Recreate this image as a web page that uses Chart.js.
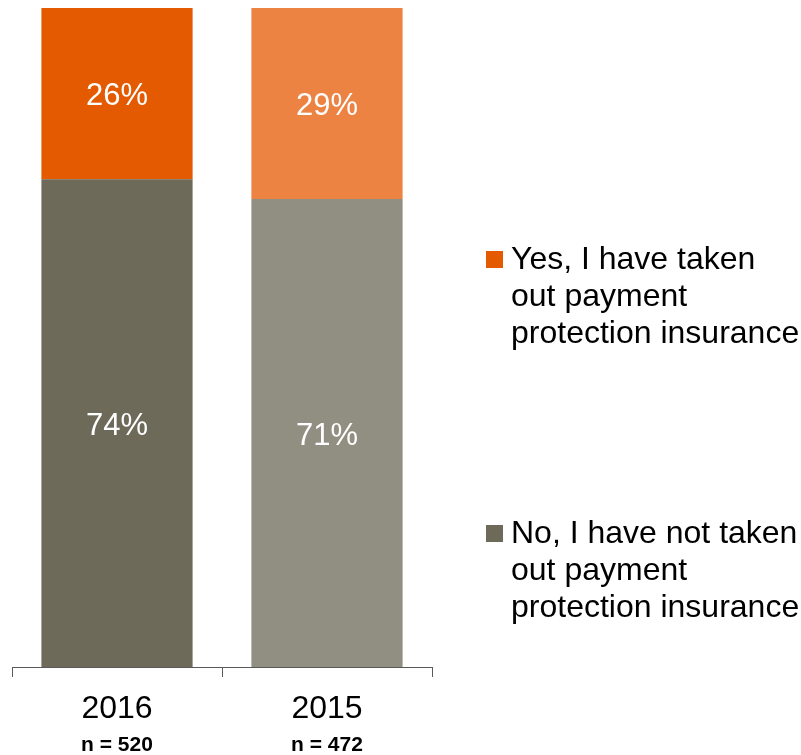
<!DOCTYPE html>
<html>
<head>
<meta charset="utf-8">
<title>Payment protection insurance</title>
<script src="https://cdn.jsdelivr.net/npm/chart.js@4.4.1/dist/chart.umd.min.js"></script>
<style>
	html, body { margin: 0; padding: 0; background: #fff; }
	#wrap { width: 801px; height: 755px; position: relative; }
</style>
</head>
<body>
<div id="wrap"><canvas id="ppiChart" width="801" height="755"></canvas></div>
<script>
var years = ["2016", "2015"];
var sampleSizes = ["n = 520", "n = 472"];
var noValues = [74, 71];
var yesValues = [26, 29];
var legendYes = ["Yes, I have taken", "out payment", "protection insurance"];
var legendNo = ["No, I have not taken", "out payment", "protection insurance"];

var FONT = "'Liberation Sans', Arial, sans-serif";

(function() {
	// percentage labels in the middle of every segment
	var segmentLabels = {
		id: 'segmentLabels',
		afterDatasetsDraw: function(chart) {
			var ctx = chart.ctx;
			ctx.save();
			ctx.font = "31px " + FONT;
			ctx.fillStyle = "#fff";
			ctx.textAlign = "center";
			ctx.textBaseline = "middle";
			chart.data.datasets.forEach(function(ds, i) {
				chart.getDatasetMeta(i).data.forEach(function(bar, j) {
					ctx.fillText(ds.data[j] + "%", bar.x, (bar.y + bar.base) / 2 + 3);
				});
			});
			ctx.restore();
		}
	};

	// legend on the right, wrapped over three lines
	var sideLegend = {
		id: 'sideLegend',
		afterDraw: function(chart) {
			var ctx = chart.ctx;
			var entries = [
				{ lines: legendYes, color: "#E35A00", top: 251 },
				{ lines: legendNo, color: "#6D6A5A", top: 525 }
			];
			ctx.save();
			ctx.font = "32px " + FONT;
			ctx.textAlign = "left";
			ctx.textBaseline = "alphabetic";
			entries.forEach(function(e) {
				ctx.fillStyle = e.color;
				ctx.fillRect(486, e.top, 17, 17);
				ctx.fillStyle = "#000";
				e.lines.forEach(function(line, k) {
					ctx.fillText(line, 511, e.top + 18 + k * 37);
				});
			});
			ctx.restore();
		}
	};

	var ctx = document.getElementById("ppiChart").getContext('2d');

	new Chart(ctx, {
		type: 'bar',
		data: {
			labels: years,
			datasets: [
				{
					label: "No, I have not taken out payment protection insurance",
					data: noValues,
					backgroundColor: ["#6D6A5A", "#918F82"],
					borderWidth: 0,
					categoryPercentage: 1,
					barPercentage: 0.72
				},
				{
					label: "Yes, I have taken out payment protection insurance",
					data: yesValues,
					backgroundColor: ["#E35A00", "#EC8343"],
					borderWidth: 0,
					categoryPercentage: 1,
					barPercentage: 0.72
				}
			]
		},
		options: {
			responsive: false,
			animation: false,
			layout: {
				padding: { top: 8, left: 12, right: 369, bottom: 0 }
			},
			plugins: {
				legend: { display: false },
				tooltip: { enabled: false }
			},
			scales: {
				x: {
					stacked: true,
					position: 'bottom',
					grid: {
						offset: true,
						drawOnChartArea: false,
						drawTicks: true,
						tickLength: 10,
						color: "#595959",
						lineWidth: 1
					},
					border: { display: true, color: "#595959", width: 1 },
					ticks: {
						color: "#000",
						padding: 13,
						font: { family: FONT, size: 32 }
					},
					afterFit: function(scale) { scale.height = 58; }
				},
				n: {
					type: 'category',
					labels: sampleSizes,
					position: 'bottom',
					offset: true,
					grid: { display: false },
					border: { display: false },
					ticks: {
						color: "#000",
						padding: 0,
						font: { family: FONT, size: 21, weight: 'bold' }
					},
					afterFit: function(scale) { scale.height = 30; }
				},
				y: {
					stacked: true,
					display: false,
					min: 0,
					max: 100
				}
			}
		},
		plugins: [segmentLabels, sideLegend]
	});
})();
</script>
</body>
</html>
